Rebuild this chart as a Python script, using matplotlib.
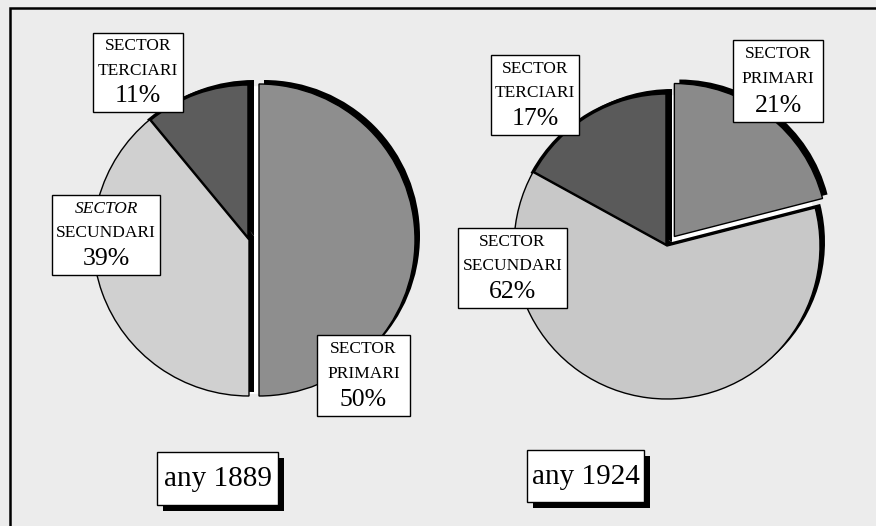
import matplotlib
matplotlib.use("Agg")
import matplotlib.pyplot as plt
from matplotlib.patches import Rectangle

# ---- data ----
sectors = ["PRIMARI", "SECUNDARI", "TERCIARI"]
share_1889 = [50, 39, 11]
share_1924 = [21, 62, 17]
years = ["any 1889", "any 1924"]

W, H = 876, 526
plt.rcParams["font.family"] = ["Liberation Serif", "DejaVu Serif"]

fig = plt.figure(figsize=(W / 100, H / 100), dpi=100)
fig.patch.set_facecolor("#ececec")
ax = fig.add_axes([0, 0, 1, 1])
ax.set_facecolor("#ececec")


def Y(y):
    return H - y


# frame
ax.add_patch(Rectangle((10, -10), W - 10 + 5, Y(8) + 10, fill=False,
                       edgecolor="black", linewidth=1.8, zorder=1))

pies = [
    dict(vals=share_1889, c=(249, 240), r=156, ex=[10, 0, 0],
         colors=["#8e8e8e", "#d0d0d0", "#5c5c5c"]),
    dict(vals=share_1924, c=(667, 246), r=153, ex=[12, 0, 0],
         colors=["#8a8a8a", "#c8c8c8", "#5a5a5a"]),
]

for p in pies:
    cx, cy = p["c"]
    # white base under the pie (fills the explode gap)
    ax.pie(p["vals"], center=(cx, Y(cy)), radius=p["r"] - 2,
           colors=["white"] * 3, startangle=90, counterclock=False,
           wedgeprops=dict(linewidth=0, zorder=1.5), frame=True)
    # shadow
    ax.pie(p["vals"], center=(cx + 5, Y(cy) + 4), radius=p["r"], explode=p["ex"],
           colors=["black"] * 3, startangle=90, counterclock=False,
           wedgeprops=dict(linewidth=0, zorder=2), frame=True)
    wedges, _ = ax.pie(p["vals"], center=(cx, Y(cy)), radius=p["r"], explode=p["ex"],
                       colors=p["colors"], startangle=90, counterclock=False,
                       wedgeprops=dict(linewidth=1.0, edgecolor="black", zorder=3),
                       frame=True)
    wedges[2].set_linewidth(2.5)
    wedges[2].set_zorder(2.5)

# label boxes: (pie index, sector index, x, y, w, h, italic first line)
boxes = [
    (0, 2, 93, 33, 90, 79, False),
    (0, 1, 52, 195, 108, 80, True),
    (0, 0, 317, 335, 93, 81, False),
    (1, 2, 491, 55, 88, 80, False),
    (1, 0, 733, 40, 90, 82, False),
    (1, 1, 458, 228, 109, 80, False),
]
vals_by_pie = [share_1889, share_1924]
for pi, si, x, y, w, h, ital in boxes:
    ax.add_patch(Rectangle((x, Y(y + h)), w, h, facecolor="white",
                           edgecolor="black", linewidth=1.0, zorder=5))
    xc = x + w / 2
    ax.text(xc, Y(y + h * 0.17), "SECTOR", ha="center", va="center",
            fontsize=12.5, style="italic" if ital else "normal", zorder=6)
    ax.text(xc, Y(y + h * 0.48), sectors[si], ha="center", va="center",
            fontsize=12.5, zorder=6)
    ax.text(xc, Y(y + h * 0.80), f"{vals_by_pie[pi][si]}%", ha="center",
            va="center", fontsize=18.5, zorder=6)

# title boxes with shadow
tboxes = [(157, 452, 121, 53), (527, 450, 117, 52)]
for (x, y, w, h), t in zip(tboxes, years):
    ax.add_patch(Rectangle((x + 6, Y(y + h + 6)), w, h, facecolor="black",
                           edgecolor="black", linewidth=0, zorder=5))
    ax.add_patch(Rectangle((x, Y(y + h)), w, h, facecolor="white",
                           edgecolor="black", linewidth=1.0, zorder=6))
    ax.text(x + w / 2, Y(y + h / 2 + 1), t, ha="center", va="center",
            fontsize=21, zorder=7)

ax.set_xlim(0, W)
ax.set_ylim(0, H)
ax.set_aspect("auto")
ax.axis("off")
fig.savefig("out.png", dpi=100, facecolor=fig.get_facecolor())
